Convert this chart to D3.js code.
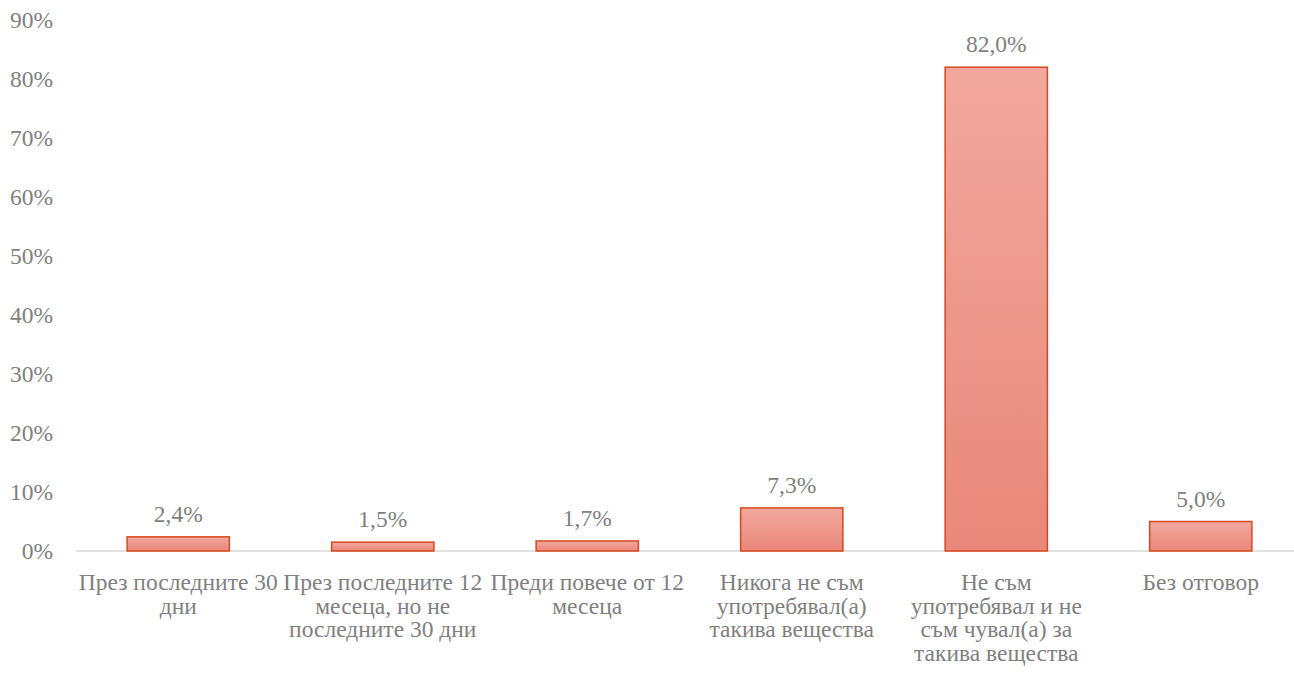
<!DOCTYPE html>
<html><head><meta charset="utf-8">
<script src="https://cdn.jsdelivr.net/npm/d3@7"></script>
<style>body{margin:0;background:#fff}svg{display:block}</style>
</head><body>
<svg id="c" width="1294" height="674"></svg>
<script>
const categories = [
  "През последните 30\nдни",
  "През последните 12\nмесеца, но не\nпоследните 30 дни",
  "Преди повече от 12\nмесеца",
  "Никога не съм\nупотребявал(а)\nтакива вещества",
  "Не съм\nупотребявал и не\nсъм чувал(а) за\nтакива вещества",
  "Без отговор"
];
const values = [2.4, 1.5, 1.7, 7.3, 82.0, 5.0];
const yTicks = [0,10,20,30,40,50,60,70,80,90];

const svg = d3.select("#c");
const ff = '"Liberation Serif"';
const fs = 23.5;
const grey = "#7f7f7f";
const x = d3.scaleBand().domain(categories).range([76, 1303]).paddingInner(0.5).paddingOuter(0.25);
const y = d3.scaleLinear().domain([0, 90]).range([551, 20]);

const defs = svg.append("defs");
const g = defs.append("linearGradient").attr("id","bg").attr("x1",0).attr("y1",0).attr("x2",0).attr("y2",1);
g.append("stop").attr("offset","0%").attr("stop-color","#f2a89e");
g.append("stop").attr("offset","100%").attr("stop-color","#e9877a");

// y axis labels
svg.append("g").selectAll("text").data(yTicks).join("text")
  .attr("x", 53).attr("y", d => y(d)).attr("dy","0.33em")
  .attr("text-anchor","end").style("font-family",ff).attr("font-size",fs).attr("fill",grey)
  .text(d => d + "%");

// baseline
svg.append("line").attr("x1",76).attr("x2",1303).attr("y1",y(0)).attr("y2",y(0))
  .attr("stroke","#d9d9d9").attr("stroke-width",1.5);

// bars
svg.append("g").selectAll("rect").data(values).join("rect")
  .attr("x",(d,i)=>x(categories[i])).attr("width",x.bandwidth())
  .attr("y",d=>y(d)).attr("height",d=>y(0)-y(d))
  .attr("fill","url(#bg)").attr("stroke","#d4491f").attr("stroke-width",1.5);

// data labels
svg.append("g").selectAll("text").data(values).join("text")
  .attr("x",(d,i)=>x(categories[i])+x.bandwidth()/2).attr("y",d=>y(d)-15)
  .attr("text-anchor","middle").style("font-family",ff).attr("font-size",fs).attr("fill",grey)
  .text(d => d.toFixed(1).replace(".", ",") + "%");

// category labels
const cl = svg.append("g").selectAll("text").data(categories).join("text")
  .attr("text-anchor","middle").style("font-family",ff).attr("font-size",fs).attr("fill",grey);
cl.each(function(c){
  const t = d3.select(this);
  const cx = x(c)+x.bandwidth()/2;
  c.split("\n").forEach((ln,k)=>{
    t.append("tspan").attr("x",cx).attr("y",590+k*23.6).text(ln);
  });
});
</script>
</body></html>
